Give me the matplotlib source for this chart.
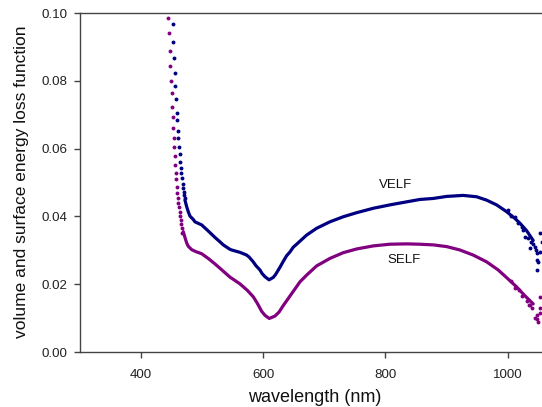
import matplotlib
matplotlib.use("Agg")
import matplotlib.pyplot as plt

# ---- data ----
# steep, sparsely sampled part (individual dots)
velf_dots_x = [452.3, 452.9, 454.0, 455.1, 456.2, 457.2, 458.4, 459.5, 460.0, 461.1,
               462.1, 463.3, 464.4, 465.4, 466.0, 467.0, 468.2, 468.7, 469.8, 470.9, 471.9]
velf_dots_y = [0.0968, 0.0914, 0.0868, 0.0824, 0.0786, 0.0745, 0.0705, 0.0684, 0.0652, 0.0630,
               0.0604, 0.0583, 0.0561, 0.0544, 0.0529, 0.0512, 0.0496, 0.0483, 0.0473, 0.0463, 0.0453]

self_dots_x = [444.8, 445.8, 447.0, 448.1, 449.1, 450.2, 451.4, 452.3, 452.9, 454.0,
               454.6, 455.6, 456.2, 457.2, 457.8, 458.8, 459.5, 460.4, 461.1, 462.1,
               463.3, 463.7, 464.9, 465.4, 466.5, 467.7]
self_dots_y = [0.0984, 0.0940, 0.0888, 0.0844, 0.0799, 0.0763, 0.0723, 0.0692, 0.0660, 0.0630,
               0.0604, 0.0578, 0.0552, 0.0529, 0.0509, 0.0487, 0.0470, 0.0453, 0.0440, 0.0427,
               0.0413, 0.0401, 0.0389, 0.0378, 0.0366, 0.0350]

# densely sampled part (dots merge into a continuous band)
velf_x = [472.0, 474.8, 477.4, 480.2, 485.6, 488.4, 499.3, 510.1, 521.1, 529.3,
          534.7, 545.6, 548.4, 562.0, 572.9, 577.0, 583.7, 588.0, 594.7, 598.0,
          603.0, 609.6, 616.4, 620.0, 627.4, 633.0, 638.3, 643.7, 649.1, 654.7,
          660.1, 671.1, 687.4, 709.0, 730.9, 752.8, 780.0, 807.1, 834.6, 856.3,
          878.1, 900.0, 927.1, 949.0, 965.4, 981.8, 998.1, 1011.7, 1019.9, 1030.8,
          1041.6]
velf_y = [0.0448, 0.0429, 0.0414, 0.0401, 0.0391, 0.0384, 0.0375, 0.0357, 0.0338, 0.0325,
          0.0316, 0.0303, 0.0301, 0.0294, 0.0286, 0.0280, 0.0266, 0.0255, 0.0242, 0.0232,
          0.0222, 0.0213, 0.0220, 0.0228, 0.0250, 0.0268, 0.0284, 0.0295, 0.0309, 0.0318,
          0.0327, 0.0345, 0.0365, 0.0384, 0.0399, 0.0411, 0.0424, 0.0434, 0.0443, 0.0450,
          0.0453, 0.0459, 0.0462, 0.0458, 0.0448, 0.0434, 0.0414, 0.0394, 0.0380, 0.0358,
          0.0329]

self_x = [469.3, 472.0, 474.8, 477.4, 483.0, 490.0, 499.3, 510.1, 521.0, 529.3,
          545.6, 562.0, 574.0, 583.7, 590.0, 597.5, 603.0, 609.9, 619.2, 626.0,
          632.8, 643.7, 654.7, 660.1, 671.1, 687.4, 709.0, 730.9, 752.8, 780.0,
          807.1, 834.6, 856.3, 878.1, 900.0, 921.7, 943.5, 965.4, 984.4, 1000.8,
          1014.5, 1028.0, 1041.6]
self_y = [0.0355, 0.0338, 0.0322, 0.0312, 0.0302, 0.0296, 0.0290, 0.0276, 0.0260, 0.0247,
          0.0221, 0.0201, 0.0182, 0.0163, 0.0145, 0.0120, 0.0108, 0.0099, 0.0106, 0.0118,
          0.0137, 0.0165, 0.0193, 0.0207, 0.0227, 0.0254, 0.0276, 0.0293, 0.0304, 0.0313,
          0.0318, 0.0319, 0.0318, 0.0316, 0.0311, 0.0301, 0.0286, 0.0266, 0.0242, 0.0215,
          0.0192, 0.0166, 0.0142]

# noisy tail (scattered dots around the band)
velf_tail_x = [1000.0, 1006.0, 1012.0, 1016.0, 1022.6, 1025.3, 1028.0, 1033.0, 1036.2, 1038.0,
               1041.6, 1044.0, 1046.0, 1047.2, 1047.2, 1048.5, 1049.8, 1052.6, 1052.6, 1055.3]
velf_tail_y = [0.0418, 0.0400, 0.0398, 0.0382, 0.0370, 0.0360, 0.0340, 0.0335, 0.0306, 0.0325,
               0.0318, 0.0310, 0.0300, 0.0291, 0.0271, 0.0242, 0.0266, 0.0350, 0.0296, 0.0325]

self_tail_x = [1005.0, 1012.0, 1018.0, 1024.0, 1031.0, 1034.0, 1036.2, 1039.0, 1044.4, 1047.2,
               1048.2, 1049.8, 1052.6, 1052.6, 1052.6]
self_tail_y = [0.0210, 0.0190, 0.0182, 0.0165, 0.0150, 0.0138, 0.0140, 0.0130, 0.0099, 0.0109,
               0.0096, 0.0089, 0.0114, 0.0129, 0.0163]

x_ticks = [400, 600, 800, 1000]
y_ticks = [0.00, 0.02, 0.04, 0.06, 0.08, 0.10]
y_tick_labels = ["0.00", "0.02", "0.04", "0.06", "0.08", "0.10"]

VELF_COLOR = "#000080"
SELF_COLOR = "#800080"

plt.rcParams['font.family'] = ['Liberation Sans', 'DejaVu Sans']

fig = plt.figure(figsize=(5.42, 4.07), dpi=100)
ax = fig.add_axes([0.1472, 0.1351, 0.8528, 0.8329])

ms = 2.8
lw = 2.3
# VELF
ax.plot(velf_dots_x, velf_dots_y, 'o', color=VELF_COLOR, ms=ms, mew=0, clip_on=False)
ax.plot(velf_x, velf_y, '-', color=VELF_COLOR, lw=lw, solid_capstyle='round', solid_joinstyle='round')
ax.plot(velf_tail_x, velf_tail_y, 'o', color=VELF_COLOR, ms=ms, mew=0)
# SELF
ax.plot(self_dots_x, self_dots_y, 'o', color=SELF_COLOR, ms=ms, mew=0, clip_on=False)
ax.plot(self_x, self_y, '-', color=SELF_COLOR, lw=lw, solid_capstyle='round', solid_joinstyle='round')
ax.plot(self_tail_x, self_tail_y, 'o', color=SELF_COLOR, ms=ms, mew=0)

ax.text(817, 0.0493, "VELF", ha='center', va='center', fontsize=9.5, color='#111111')
ax.text(830, 0.0271, "SELF", ha='center', va='center', fontsize=9.5, color='#111111')

ax.set_xlim(300, 1056)
ax.set_ylim(0, 0.10)
ax.set_xticks(x_ticks)
ax.set_yticks(y_ticks)
ax.set_yticklabels(y_tick_labels)

for s in ['left', 'bottom', 'top']:
    ax.spines[s].set_color('#444444')
    ax.spines[s].set_linewidth(1.0)
ax.spines['right'].set_visible(False)

ax.tick_params(axis='both', direction='out', length=4, width=1, color='#444444',
               labelsize=9.6, labelcolor='#222222')
ax.tick_params(axis='y', pad=5)
ax.tick_params(axis='x', pad=8)

fig.text(315 / 542, (407 - 398) / 407, "wavelength (nm)", ha='center', va='center',
         fontsize=13, color='#111111')
fig.text(22 / 542, (407 - 182) / 407, "volume and surface energy loss function",
         ha='center', va='center', rotation=90, fontsize=12.5, color='#111111')

fig.savefig("out.png", dpi=100)
